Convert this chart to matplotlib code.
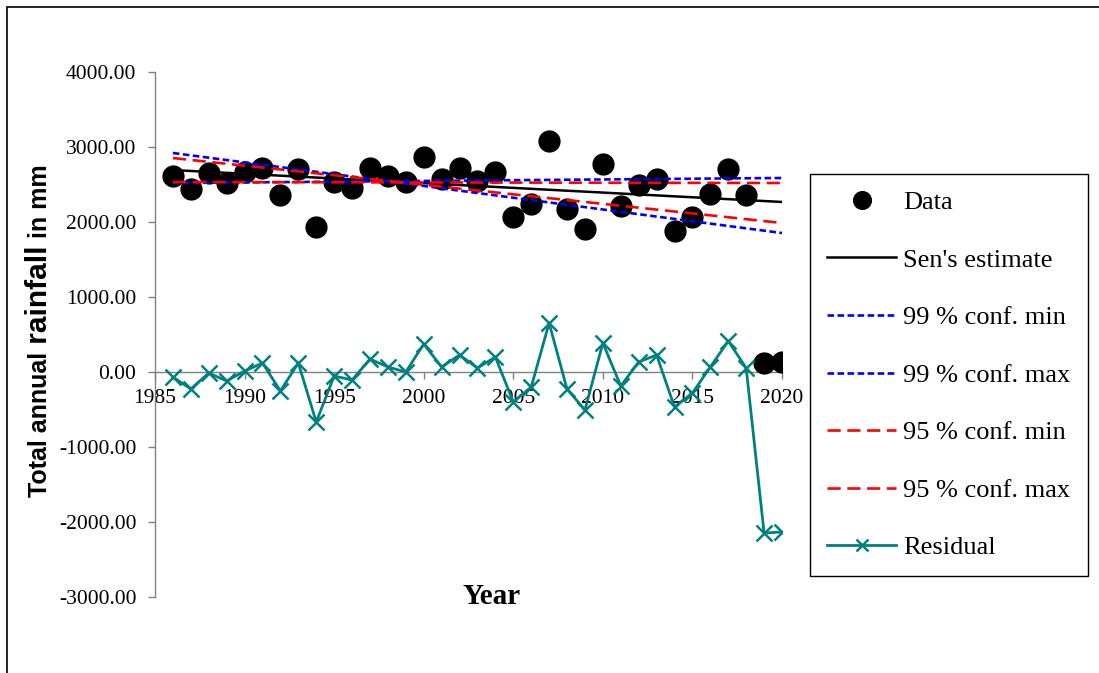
import matplotlib
matplotlib.use("Agg")
import matplotlib.pyplot as plt
from matplotlib.patches import Rectangle

# ---------------- data ----------------
years = list(range(1986, 2021))
rainfall = [2613, 2440, 2653, 2520, 2667, 2720, 2360, 2707, 1933, 2533,
            2453, 2720, 2613, 2533, 2867, 2573, 2720, 2547, 2667, 2067,
            2240, 3080, 2173, 1907, 2773, 2213, 2493, 2573, 1880, 2067,
            2373, 2707, 2360, 120, 133]
residual = [-67, -227, -13, -120, 13, 120, -253, 120, -667, -53,
            -107, 173, 67, 0, 373, 67, 227, 53, 200, -400,
            -200, 653, -227, -507, 387, -187, 133, 227, -467, -280,
            67, 413, 53, -2147, -2133]

line_years = [1986, 2020]
sen_estimate = [2693, 2267]
conf99_min = [2920, 1853]
conf99_max = [2520, 2587]
conf95_min = [2853, 1987]
conf95_max = [2533, 2520]

x_ticks = [1985, 1990, 1995, 2000, 2005, 2010, 2015, 2020]
y_ticks = [-3000, -2000, -1000, 0, 1000, 2000, 3000, 4000]

# ---------------- figure ----------------
W, H = 1099, 673
fig = plt.figure(figsize=(W / 100, H / 100), dpi=100)
ax = fig.add_axes([155 / W, 1 - 597 / H, (782 - 155) / W, (597 - 72) / H])

serif = "Liberation Serif"
teal = "#008080"

ax.plot(years, rainfall, linestyle="none", marker="o", color="black",
        markersize=15, label="Data", zorder=3)
ax.plot(line_years, sen_estimate, color="black", lw=1.8,
        label="Sen's estimate", zorder=4)
ax.plot(line_years, conf99_min, color="#0000FF", lw=1.9, dashes=(2.5, 1.3),
        label="99 % conf. min", zorder=4)
ax.plot(line_years, conf99_max, color="#0000FF", lw=1.9, dashes=(2.5, 1.3),
        label="99 % conf. max", zorder=4)
ax.plot(line_years, conf95_min, color="#FF0000", lw=1.9, dashes=(5, 2.5),
        label="95 % conf. min", zorder=4)
ax.plot(line_years, conf95_max, color="#FF0000", lw=1.9, dashes=(5, 2.5),
        label="95 % conf. max", zorder=4)
ax.plot(years, residual, color=teal, lw=2.0, marker="x", markersize=11,
        markeredgewidth=1.8, label="Residual", zorder=5)

ax.set_xlim(1985, 2020)
ax.set_ylim(-3000, 4000)
ax.set_axisbelow(True)

for s in ("top", "right"):
    ax.spines[s].set_visible(False)
ax.spines["bottom"].set_position(("data", 0))
for s in ("left", "bottom"):
    ax.spines[s].set_color("#808080")
    ax.spines[s].set_linewidth(1.0)

ax.set_xticks(x_ticks)
ax.set_xticklabels([str(v) for v in x_ticks])
ax.set_yticks(y_ticks)
ax.set_yticklabels([f"{v:.2f}" for v in y_ticks])
ax.tick_params(axis="both", direction="out", length=5, width=1.0,
               color="#808080", labelsize=15.5, labelcolor="black")
ax.tick_params(axis="y", pad=8.5)
ax.tick_params(axis="x", pad=7)
for lab in ax.get_xticklabels() + ax.get_yticklabels():
    lab.set_fontfamily(serif)

# legend
leg = ax.legend(loc="center", bbox_to_anchor=((810 + 1088) / 2 / W, 1 - (173 + 577) / 2 / H),
                bbox_transform=fig.transFigure, frameon=True, fancybox=False,
                edgecolor="black", framealpha=1, numpoints=1,
                prop={"family": serif, "size": 19}, handlelength=2.61,
                handletextpad=0.27, borderpad=0.64, labelspacing=1.29,
                markerscale=0.85)
leg.get_frame().set_linewidth(1.0)

# x label
fig.text(492 / W, 1 - 604 / H, "Year", ha="center", va="baseline",
         fontsize=21, fontweight="bold", family=serif)

# y label with mixed sizes
fig.canvas.draw()
renderer = fig.canvas.get_renderer()
ypos = 1 - 497 / H
xpos = 47 / W
for txt, size in [("Total annual", 18), (" rainfall", 21.5), (" in mm", 18)]:
    t = fig.text(xpos, ypos, txt, rotation=90, rotation_mode="anchor",
                 ha="left", va="baseline", fontsize=size, fontweight="bold",
                 family="Liberation Sans")
    bb = t.get_window_extent(renderer)
    ypos += bb.height / H

# outer border (left and top visible)
fig.patches.append(Rectangle((7 / W, -0.05), 1.2, (1 - 7 / H) + 0.05,
                             transform=fig.transFigure, fill=False,
                             edgecolor="black", lw=1.2))

fig.savefig("out.png", dpi=100)
